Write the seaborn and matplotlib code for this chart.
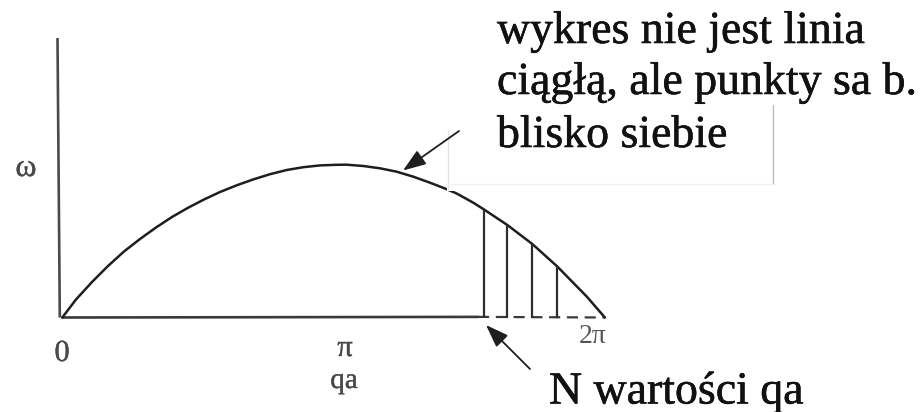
import numpy as np
import pandas as pd
import matplotlib
matplotlib.use("Agg")
import matplotlib.pyplot as plt
import matplotlib.patheffects as pe
from matplotlib.patches import Rectangle
import seaborn as sns

# Dispersion curve omega(qa), qa in units of pi, omega normalised to its maximum
qa_pi = [0.0, 0.0505, 0.1095, 0.1684, 0.2274, 0.2864, 0.3454, 0.4043, 0.4633,
         0.5223, 0.5813, 0.6428, 0.7040, 0.7656, 0.8271, 0.8883, 0.9499,
         1.0088, 1.0483, 1.1095, 1.1710, 1.2326, 1.2938, 1.3553, 1.4106,
         1.4537, 1.5149, 1.5544, 1.6403, 1.7324, 1.8245, 1.8713, 1.9329, 2.0]
omega = [0.0, 0.1178, 0.2323, 0.3370, 0.4319, 0.5137, 0.5890, 0.6577, 0.7179,
         0.7723, 0.8213, 0.8652, 0.9038, 0.9378, 0.9653, 0.9836, 0.9954,
         0.9993, 1.0, 0.9915, 0.9764, 0.9542, 0.9215, 0.8822, 0.8442,
         0.8115, 0.7513, 0.7068, 0.6054, 0.4810, 0.3338, 0.2487, 0.1374, 0.0]

# Discrete allowed qa values (a few of the N points) and their omega
qa_discrete = [1.5544, 1.6403, 1.7324, 1.8245]
omega_discrete = [0.7068, 0.6054, 0.4810, 0.3338]

tick_labels = ["0", "π", "2π"]
note_lines = ["wykres nie jest linia", "ciągłą, ale punkty sa b.", "blisko siebie"]
note_bottom = "N wartości qa"
x_label = "qa"
y_label = "ω"

W, H, DPI = 921, 412, 100
X0, SX = 62.3, 271.3      # pixel of qa=0, pixels per pi
Y0, SY = 317.5, 152.8     # pixel row of omega=0, pixels per unit omega


def px(x, y):
    """Figure pixel (from top-left) -> data coordinates."""
    return (x - X0) / SX, (Y0 - y) / SY


def heavy(color, w):
    return [pe.withStroke(linewidth=w, foreground=color)]


sns.set_theme(style="white")
plt.rcParams["font.family"] = ["Liberation Serif", "DejaVu Serif"]

fig = plt.figure(figsize=(W / DPI, H / DPI), dpi=DPI)
ax = fig.add_axes([0, 0, 1, 1])
ax.set_xlim(px(0, 0)[0], px(W, 0)[0])
ax.set_ylim(px(0, H)[1], px(0, 0)[1])
ax.axis("off")

df = pd.DataFrame({"qa": qa_pi, "omega": omega})
sns.lineplot(data=df, x="qa", y="omega", ax=ax, color="#1e1e1e", lw=1.8,
             sort=False, zorder=3)

axis_c = "#3a3a3a"
# vertical omega axis
ax.plot(*zip(px(57.5, 38), px(59.8, Y0)), color="#4a4a4a", lw=1.9, zorder=2,
        solid_capstyle="butt")
# horizontal qa axis: solid up to the discrete region, dashed afterwards
xs_end = px(478, 0)[0]
ax.plot([0, xs_end], [0, 0.004], color=axis_c, lw=1.9, zorder=2)
ax.plot([xs_end, 2.0], [0.004, 0.0], color=axis_c, lw=1.6, zorder=2,
        dashes=(5, 3))

# the discrete qa values drawn as vertical lines
ax.vlines(qa_discrete, 0, omega_discrete, color="#2e2e2e", lw=1.6, zorder=3)

# pasted text box edges (white fill hides a bit of the curve)
bx0, by0 = px(447, 191)
bx1, by1 = px(775, 95)
ax.add_patch(Rectangle((bx0, by0), bx1 - bx0, by1 - by0, facecolor="white",
                       edgecolor="none", zorder=4))
ax.plot(*zip(px(448, 130), px(448, 190)), color="#e2e2e2", lw=0.9, zorder=5)
ax.plot(*zip(px(773, 105), px(773, 183)), color="#b8b8b8", lw=0.9, zorder=5)
ax.plot(*zip(px(448, 184), px(775, 184)), color="#f3f3f3", lw=0.9, zorder=5)

# tick labels and axis names
tick_c = "#4a4a4a"
ax.text(*px(62, 361), tick_labels[0], fontsize=22, color=tick_c,
        ha="center", va="baseline", path_effects=heavy(tick_c, 0.25))
ax.text(*px(345, 356), tick_labels[1], fontsize=22, color=tick_c,
        ha="center", va="baseline", path_effects=heavy(tick_c, 0.25))
ax.text(*px(593, 343), tick_labels[2], fontsize=20, color="#555555",
        ha="center", va="baseline")
ax.text(*px(344, 388), x_label, fontsize=21, color=tick_c,
        ha="center", va="baseline", path_effects=heavy(tick_c, 0.25))
ax.text(*px(26, 176), y_label, fontsize=23, color=tick_c,
        ha="center", va="baseline", path_effects=heavy(tick_c, 0.25))

# annotations
txt_c = "#111111"
for line, base in zip(note_lines, [43, 94, 147]):
    ax.text(*px(497, base), line, fontsize=33, color=txt_c,
            ha="left", va="baseline", zorder=6,
            path_effects=heavy(txt_c, 0.4))
ax.text(*px(549, 403.5), note_bottom, fontsize=33, color=txt_c,
        ha="left", va="baseline", zorder=6, path_effects=heavy(txt_c, 0.4))

arrow = dict(arrowstyle="-|>,head_length=0.5,head_width=0.18",
             color="#1e1e1e", lw=1.3, mutation_scale=28,
             shrinkA=0, shrinkB=0)
ax.annotate("", xy=px(403, 170.5), xytext=px(459, 131),
            arrowprops=arrow, zorder=7)
ax.annotate("", xy=px(486, 325), xytext=px(530, 369),
            arrowprops=arrow, zorder=7)

fig.savefig("out.png", dpi=DPI, facecolor="white")
